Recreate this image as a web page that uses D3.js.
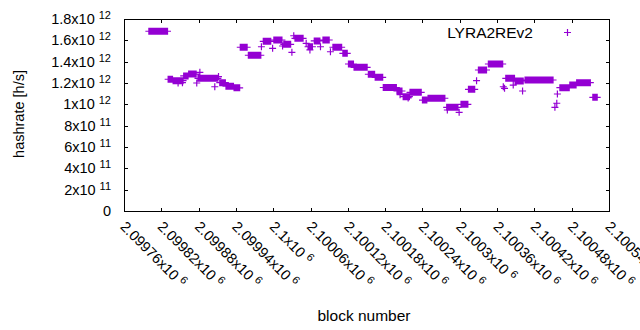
<!DOCTYPE html>
<html>
<head>
<meta charset="utf-8">
<script src="https://cdn.jsdelivr.net/npm/d3@7"></script>
<style>
  body { margin: 0; background: #fff; }
  text { font-family: "Liberation Sans", Arial, sans-serif; fill: #000; }
</style>
</head>
<body>
<svg id="chart" width="640" height="330"></svg>
<script>
// Data: runs of blocks sharing the same hashrate, plus single outlier blocks
const runFirst = [2099800, 2099831, 2099839, 2099856, 2099864, 2099879, 2099914, 2099924, 2099937, 2099947,
  2099960, 2099984, 2100001, 2100017, 2100035, 2100056, 2100066, 2100080, 2100096, 2100112,
  2100121, 2100130, 2100153, 2100164, 2100177, 2100199, 2100209, 2100220, 2100240, 2100249,
  2100279, 2100302, 2100314, 2100330, 2100346, 2100374, 2100389, 2100405, 2100461, 2100477,
  2100488, 2100514];
const runLast = [2099830, 2099838, 2099855, 2099863, 2099876, 2099911, 2099923, 2099936, 2099946, 2099958,
  2099980, 2099996, 2100014, 2100028, 2100048, 2100063, 2100075, 2100090, 2100110, 2100119,
  2100129, 2100151, 2100163, 2100176, 2100198, 2100207, 2100219, 2100238, 2100247, 2100276,
  2100297, 2100313, 2100324, 2100343, 2100369, 2100388, 2100402, 2100450, 2100476, 2100487,
  2100510, 2100521];
const runHashrate = [1.685e12, 1.235e12, 1.222e12, 1.266e12, 1.284e12, 1.244e12, 1.203e12, 1.17e12, 1.155e12, 1.535e12,
  1.46e12, 1.591e12, 1.603e12, 1.563e12, 1.619e12, 1.54e12, 1.594e12, 1.603e12, 1.535e12, 1.478e12,
  1.378e12, 1.347e12, 1.282e12, 1.253e12, 1.158e12, 1.125e12, 1.072e12, 1.113e12, 1.04e12, 1.057e12,
  0.972e12, 1.0e12, 1.141e12, 1.322e12, 1.378e12, 1.244e12, 1.219e12, 1.228e12, 1.156e12, 1.181e12,
  1.203e12, 1.066e12];

const spikeBlock = [2099847, 2099854, 2099877, 2099882, 2099906, 2099912, 2099981, 2099999, 2100015, 2100030,
  2100033, 2100053, 2100059, 2100076, 2100092, 2100204, 2100217, 2100280, 2100299, 2100327,
  2100370, 2100372, 2100386, 2100401, 2100453, 2100456, 2100457];
const spikeHashrate = [1.2e12, 1.203e12, 1.2e12, 1.3e12, 1.165e12, 1.26e12, 1.54e12, 1.525e12, 1.547e12, 1.488e12,
  1.643e12, 1.572e12, 1.51e12, 1.54e12, 1.493e12, 1.09e12, 1.06e12, 0.947e12, 0.925e12, 1.222e12,
  1.165e12, 1.15e12, 1.181e12, 1.125e12, 0.972e12, 1.01e12, 1.097e12];

const xTicks = d3.range(2099760, 2100541, 60);
const yTicks = d3.range(0, 1.81e12, 2e11);
const seriesName = "LYRA2REv2";

// build one point per block
const points = [];
runFirst.forEach((first, i) => {
  for (let b = first; b <= runLast[i]; b++) points.push({ block: b, hashrate: runHashrate[i] });
});
spikeBlock.forEach((b, i) => points.push({ block: b, hashrate: spikeHashrate[i] }));

const margin = { left: 124, right: 609, top: 19, bottom: 211 };
const color = "#9400d3";
const fontSize = 14.5;
const titleSize = 15.5;
const supSize = 11;

const svg = d3.select("#chart");

const x = d3.scaleLinear().domain([2099760, 2100540]).range([margin.left, margin.right]);
const y = d3.scaleLinear().domain([0, 1.8e12]).range([margin.bottom, margin.top]);

// mantissa / exponent split like gnuplot's "x10^"
const sciParts = (v) => {
  if (v === 0) return ["0", null];
  const e = Math.floor(Math.log10(v) + 1e-9);
  const m = +(v / Math.pow(10, e)).toFixed(6);
  return [m + "x10", String(e)];
};

// Frame and ticks
const tickLen = 4;
const frame = svg.append("g");
frame.append("rect")
  .attr("x", margin.left + 0.5).attr("y", margin.top + 0.5)
  .attr("width", margin.right - margin.left).attr("height", margin.bottom - margin.top)
  .attr("fill", "none").attr("stroke", "#000").attr("stroke-width", 1);

yTicks.forEach((t) => {
  const yy = Math.round(y(t)) + 0.5;
  frame.append("line").attr("x1", margin.left).attr("x2", margin.left + tickLen)
    .attr("y1", yy).attr("y2", yy).attr("stroke", "#000");
  frame.append("line").attr("x1", margin.right + 1 - tickLen).attr("x2", margin.right + 1)
    .attr("y1", yy).attr("y2", yy).attr("stroke", "#000");
});
xTicks.forEach((t) => {
  const xx = Math.round(x(t)) + 0.5;
  frame.append("line").attr("x1", xx).attr("x2", xx)
    .attr("y1", margin.bottom + 1).attr("y2", margin.bottom + 1 - tickLen).attr("stroke", "#000");
  frame.append("line").attr("x1", xx).attr("x2", xx)
    .attr("y1", margin.top).attr("y2", margin.top + tickLen).attr("stroke", "#000");
});

// Y tick labels
yTicks.forEach((t) => {
  const [main, sup] = sciParts(t);
  const txt = svg.append("text")
    .attr("x", 111).attr("y", y(t)).attr("dy", "0.35em")
    .attr("text-anchor", "end").style("font-size", fontSize + "px");
  txt.append("tspan").text(main);
  if (sup) txt.append("tspan").attr("dx", 4).attr("dy", -5).style("font-size", supSize + "px").text(sup);
});

// X tick labels, rotated (last one runs off the canvas, as in the original)
xTicks.forEach((t) => {
  const [main, sup] = sciParts(t);
  const txt = svg.append("text")
    .attr("transform", `translate(${x(t) - 1},${224}) rotate(45)`)
    .attr("dy", "0.35em")
    .attr("text-anchor", "start").style("font-size", fontSize + "px");
  txt.append("tspan").text(main);
  if (sup) txt.append("tspan").attr("dx", 4).attr("dy", -5).style("font-size", supSize + "px").text(sup);
});

// Axis titles
svg.append("text")
  .attr("transform", `translate(24,114) rotate(-90)`)
  .attr("text-anchor", "middle").style("font-size", fontSize + "px")
  .text("hashrate [h/s]");
svg.append("text")
  .attr("x", 364).attr("y", 321)
  .attr("text-anchor", "middle").style("font-size", titleSize + "px")
  .text("block number");

// Points as "+" markers
const plus = (px, py, r) => `M${px - r},${py}H${px + r}M${px},${py - r}V${py + r}`;
const r = 3.5;
svg.append("path")
  .attr("d", points.map((d) => plus(x(d.block), y(d.hashrate), r)).join(""))
  .attr("fill", "none").attr("stroke", color).attr("stroke-width", 1.2);

// Legend
svg.append("text")
  .attr("x", 533).attr("y", 37.5)
  .attr("text-anchor", "end").style("font-size", titleSize + "px")
  .text(seriesName);
svg.append("path")
  .attr("d", plus(567.5, 32.5, r))
  .attr("fill", "none").attr("stroke", color).attr("stroke-width", 1.2);
</script>
</body>
</html>
